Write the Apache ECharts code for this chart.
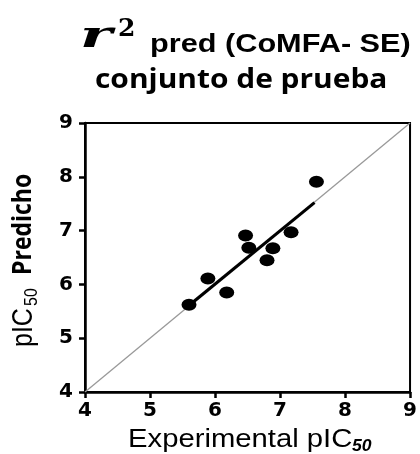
<!DOCTYPE html>
<html>
<head>
<meta charset="utf-8">
<script src="https://cdn.jsdelivr.net/npm/echarts@6/dist/echarts.min.js"></script>
<style>html,body{margin:0;padding:0;background:#fff}#c{width:420px;height:454px}</style>
</head>
<body>
<div id="c"></div>
<script>
// Data
const experimental = [5.60, 5.89, 6.18, 6.47, 6.52, 6.89, 6.80, 7.17, 7.56];
const predicted    = [5.62, 6.11, 5.85, 6.91, 6.68, 6.67, 6.45, 6.97, 7.91];
const fitX = [5.66, 7.53];
const fitY = [5.67, 7.52];
const identityX = [4, 9];
const identityY = [4, 9];
const axisMin = 4, axisMax = 9, axisStep = 1;

const points = experimental.map((x, i) => [x, predicted[i]]);
const fitLine = fitX.map((x, i) => [x, fitY[i]]);
const identity = identityX.map((x, i) => [x, identityY[i]]);

const chart = echarts.init(document.getElementById('c'), null, {renderer: 'canvas'});
const tickLabel = {fontFamily: 'DejaVu Sans', fontWeight: 'bold', fontSize: 20, color: '#000'};
chart.setOption({
  animation: false,
  backgroundColor: '#fff',
  grid: {left: 85, top: 123, width: 330, height: 269, show: true, borderColor: '#000', borderWidth: 2, containLabel: false},
  xAxis: {
    type: 'value', min: axisMin, max: axisMax, interval: axisStep,
    axisLine: {show: true, onZero: false, lineStyle: {color: '#000', width: 2.5}},
    axisTick: {show: true, inside: false, length: 6, lineStyle: {color: '#000', width: 2.5}},
    axisLabel: Object.assign({margin: 9}, tickLabel),
    splitLine: {show: false}
  },
  yAxis: {
    type: 'value', min: axisMin, max: axisMax, interval: axisStep,
    axisLine: {show: true, onZero: false, lineStyle: {color: '#000', width: 2.5}},
    axisTick: {show: true, inside: false, length: 6, lineStyle: {color: '#000', width: 2.5}},
    axisLabel: Object.assign({margin: 12}, tickLabel),
    splitLine: {show: false}
  },
  series: [
    {type: 'line', data: identity, showSymbol: false, symbol: 'none', lineStyle: {color: '#999', width: 1.3}, z: 1},
    {type: 'line', data: fitLine, showSymbol: false, symbol: 'none', lineStyle: {color: '#000', width: 3.2}, z: 2},
    {type: 'scatter', data: points, symbol: 'circle', symbolSize: [15, 12], itemStyle: {color: '#000', opacity: 1}, z: 3}
  ],
  graphic: [
    {type: 'text', x: 80, y: 37, scaleX: 1.6, style: {text: 'r', font: 'italic bold 38px "DejaVu Serif"', fill: '#000', textVerticalAlign: 'middle'}},
    {type: 'text', x: 118, y: 29, style: {text: '2', font: 'bold 25px "DejaVu Serif"', fill: '#000', textVerticalAlign: 'middle'}},
    {type: 'text', x: 150, y: 45, scaleX: 1.18, style: {text: 'pred (CoMFA- SE)', font: 'bold 26px "Liberation Sans", Arial', fill: '#000', textVerticalAlign: 'middle'}},
    {type: 'text', x: 95, y: 81, scaleX: 1.15, style: {text: 'conjunto de prueba', font: 'bold 26px "Open Sans"', fill: '#000', textVerticalAlign: 'middle'}},
    {type: 'text', x: 128, y: 440, scaleX: 1.17, style: {text: 'Experimental pIC', font: '25px "Liberation Sans", Arial', fill: '#000', textVerticalAlign: 'middle'}},
    {type: 'text', x: 352, y: 447, scaleX: 1.1, style: {text: '50', font: 'italic bold 16px "Liberation Sans", Arial', fill: '#000', textVerticalAlign: 'middle'}},
    {type: 'text', x: 24, y: 347, rotation: Math.PI / 2, scaleY: 1.15, style: {text: 'pIC', font: '25px "Liberation Sans", Arial', fill: '#000', textVerticalAlign: 'middle'}},
    {type: 'text', x: 32, y: 306, rotation: Math.PI / 2, scaleY: 1.1, style: {text: '50', font: '16px "Liberation Sans", Arial', fill: '#000', textVerticalAlign: 'middle'}},
    {type: 'text', x: 23, y: 275, rotation: Math.PI / 2, scaleY: 1.15, style: {text: 'Predicho', font: 'bold 23px "Open Sans"', fill: '#000', textVerticalAlign: 'middle'}}
  ]
});
</script>
</body>
</html>
